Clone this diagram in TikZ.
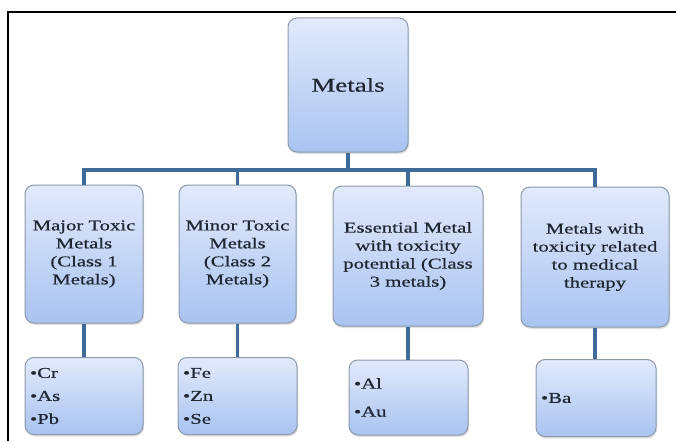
\documentclass[tikz,border=0pt]{standalone}
\usepackage{fontspec}
\setmainfont{Liberation Serif}
\newfontfamily\boxfont[FakeStretch=1.38,FakeBold=0.6]{Liberation Serif}
\usetikzlibrary{shadows}
\definecolor{boxtop}{HTML}{E2EAFB}
\definecolor{boxbot}{HTML}{A9C3F0}
\definecolor{boxline}{HTML}{8C99AB}
\definecolor{linkblue}{HTML}{3F6B98}
\definecolor{boxtext}{HTML}{1E2733}
\tikzset{
    box/.style ={
        shape=rectangle,
        rounded corners=9pt,
        draw=boxline,
        line width=1pt,
        top color=boxtop,
        bottom color=boxbot,
        text=boxtext,
        drop shadow={opacity=0.25, shadow xshift=1pt, shadow yshift=-2pt},
        inner sep=4pt
    },
    topbox/.style ={
        box,
        minimum width=120pt,
        minimum height=134pt,
        font=\boxfont\fontsize{19.5}{23}\selectfont
    },
    classbox/.style ={
        box,
        align=center,
        minimum height=138pt,
        font=\boxfont\fontsize{15}{18}\selectfont
    },
    listbox/.style ={
        box,
        align=left,
        minimum height=77pt,
        font=\boxfont\fontsize{15}{23}\selectfont
    },
    link/.style ={
        draw=linkblue,
        line width=3.5pt
    }
}

\begin{document}
\begin{tikzpicture}[x=1pt,y=-1pt]
    \useasboundingbox (0,0) rectangle (676,441);
    \draw[line width=2pt] (8,441) -- (8,12) -- (676,12);
    \node[topbox] (metals) at(348,85) {Metals};
    \node[classbox,minimum width=118pt] (class1) at(84,254) {Major Toxic\\Metals\\(Class 1\\Metals)};
    \node[classbox,minimum width=117pt] (class2) at(237.5,254) {Minor Toxic\\Metals\\(Class 2\\Metals)};
    \node[classbox,minimum width=150pt,minimum height=140pt] (class3) at(408,256) {Essential Metal\\with toxicity\\potential (Class\\3 metals)};
    \node[classbox,minimum width=148pt,minimum height=140pt] (therapy) at(595,257) {Metals with\\toxicity related\\to medical\\therapy};
    \node[listbox,minimum width=118pt,text width=108pt] (list1) at(84,396) {•Cr\\•As\\•Pb};
    \node[listbox,minimum width=119pt,text width=109pt] (list2) at(237.5,396) {•Fe\\•Zn\\•Se};
    \node[listbox,minimum width=119pt,text width=109pt,minimum height=75pt] (list3) at(408.5,397.5) {•Al\\[5pt]•Au};
    \node[listbox,minimum width=120pt,text width=110pt] (list4) at(596,398) {•Ba};
    \coordinate (bar) at(348,170);
    \draw[link] (metals.south) -- (bar);
    \draw[link] (bar) -| (class1.north);
    \draw[link] (bar) -| (class2.north);
    \draw[link] (bar) -| (class3.north);
    \draw[link] (bar) -| (therapy.north);
    \draw[link] (class1.south) -- (class1.south |- list1.north);
    \draw[link] (class2.south) -- (class2.south |- list2.north);
    \draw[link] (class3.south) -- (class3.south |- list3.north);
    \draw[link] (therapy.south) -- (therapy.south |- list4.north);
\end{tikzpicture}
\end{document}
